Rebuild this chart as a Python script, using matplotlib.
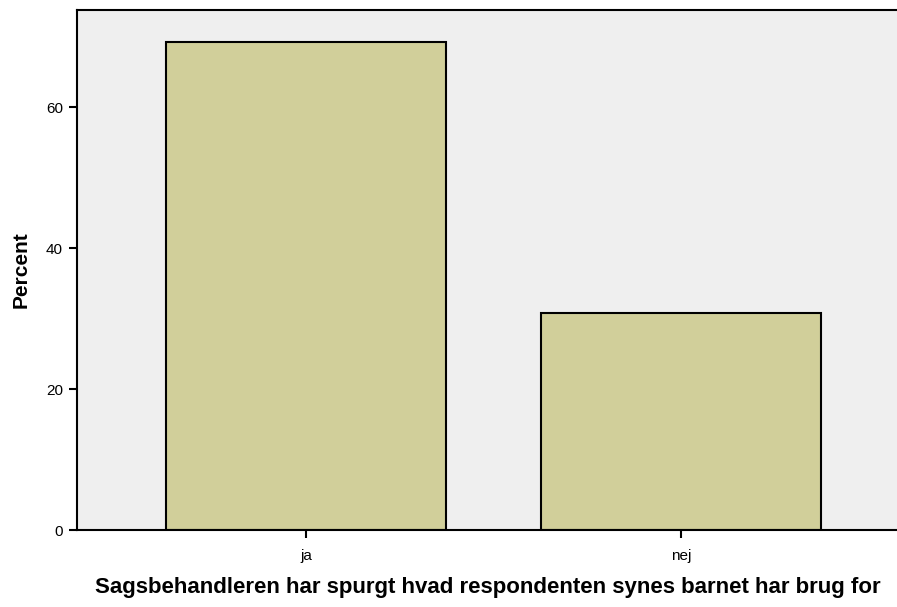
import matplotlib.pyplot as plt

# answer categories and percentages
categories = ['ja', 'nej']
percent = [69.2, 30.8]
yticks = [0, 20, 40, 60]

plt.rcParams['font.family'] = ['Liberation Sans', 'DejaVu Sans']

fig = plt.figure(figsize=(8.97, 6.07), dpi=100)
ax = fig.add_axes([77 / 897, 77 / 607, 833 / 897, 520 / 607])
ax.set_facecolor('#efefef')

x = range(len(categories))
ax.bar(x, percent, width=0.747, color='#d1cf9a', edgecolor='black', linewidth=1.5, zorder=2)

ax.set_xlim(-0.61, 1.61)
ax.set_ylim(0, 73.8)
ax.set_xticks(list(x))
ax.set_xticklabels(categories, fontsize=11)
ax.set_yticks(yticks)
ax.set_yticklabels([str(t) for t in yticks], fontsize=11)
ax.tick_params(axis='both', length=6, width=1.5, color='black')
ax.tick_params(axis='x', pad=8)
ax.tick_params(axis='y', pad=4)

for side in ['left', 'bottom', 'top']:
    ax.spines[side].set_linewidth(1.5)
ax.spines['right'].set_visible(False)

ax.set_ylabel('Percent', fontsize=15, fontweight='bold', labelpad=11)
ax.set_xlabel('Sagsbehandleren har spurgt hvad respondenten synes barnet har brug for',
              fontsize=16, fontweight='bold')
ax.xaxis.set_label_coords(0.4935, -0.09)

fig.savefig('out.png', dpi=100)
